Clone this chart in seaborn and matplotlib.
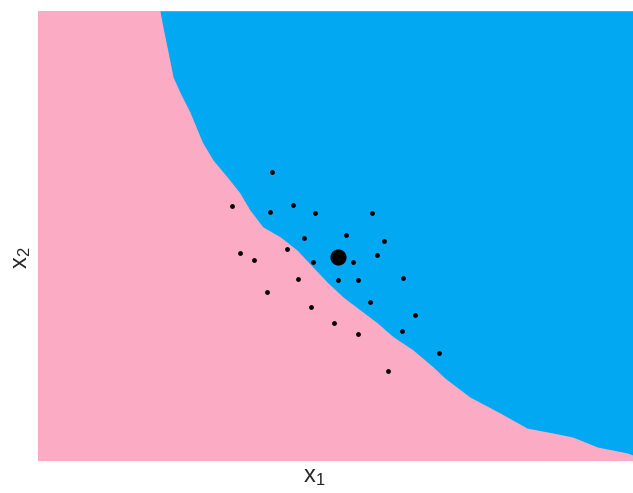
import matplotlib

matplotlib.use("Agg")
import matplotlib.pyplot as plt
import pandas as pd
import seaborn as sns

# decision boundary (x1, x2), blue region lies above it
boundary_x1 = [20.5, 21.0, 21.8, 22.7, 23.9, 25.5, 26.7, 27.6, 29.4, 31.8, 33.9, 35.6,
               37.8, 40.7, 43.5, 46.2, 48.7, 51.3, 54.1, 57.0, 59.7, 63.0, 66.4, 68.4,
               72.6, 77.6, 82.2, 86.6, 89.9, 94.0, 99.0, 100.0]
boundary_x2 = [100.0, 96.4, 91.3, 85.3, 81.8, 77.6, 73.8, 70.9, 66.9, 63.1, 59.6, 55.8,
               52.0, 49.8, 46.9, 43.1, 39.6, 36.4, 33.6, 30.7, 27.6, 24.7, 20.9, 18.4,
               14.2, 10.7, 7.3, 6.2, 5.3, 3.1, 1.8, 1.3]

# neighbourhood samples
pts_x1 = [39.3, 32.6, 42.9, 39.0, 46.5, 56.1, 44.7, 51.8, 58.2, 41.9, 33.9, 36.3, 46.2, 53.0,
          57.0, 43.7, 50.4, 53.7, 61.3, 38.5, 55.8, 45.9, 63.4, 49.7, 61.1, 53.8, 67.4, 58.9]
pts_x2 = [64.3, 56.6, 56.8, 55.3, 55.0, 55.0, 49.5, 50.1, 48.9, 47.0, 46.2, 44.6, 44.1, 44.1,
          45.8, 40.4, 40.2, 40.2, 40.6, 37.6, 35.4, 34.3, 32.4, 30.7, 28.8, 28.1, 23.9, 20.0]

# instance being explained
center_x1 = [50.5]
center_x2 = [45.3]

PINK = "#fbabc3"
BLUE = "#02a8f2"

sns.set_style("white")
plt.rcParams["font.family"] = ["Liberation Sans", "DejaVu Sans"]
plt.rcParams["mathtext.fontset"] = "custom"
plt.rcParams["mathtext.rm"] = "Liberation Sans"

fig = plt.figure(figsize=(6.33, 4.93), dpi=100)
ax = fig.add_axes([0.060, 0.065, 0.940, 0.913])
ax.set_facecolor(PINK)
ax.fill_between(boundary_x1, boundary_x2, 100, color=BLUE, linewidth=0)

pts = pd.DataFrame({"x1": pts_x1, "x2": pts_x2})
sns.scatterplot(data=pts, x="x1", y="x2", ax=ax, color="black", s=12, linewidth=0)
sns.scatterplot(x=center_x1, y=center_x2, ax=ax, color="black", s=135, linewidth=0)

ax.set_xlim(0, 100)
ax.set_ylim(0, 100)
ax.set_xticks([])
ax.set_yticks([])
sns.despine(ax=ax, left=True, bottom=True)

ax.set_xlabel(r"$\mathregular{x_1}$", fontsize=17)
ax.set_ylabel(r"$\mathregular{x_2}$", fontsize=17)
ax.xaxis.set_label_coords(0.464, -0.012)
ax.yaxis.set_label_coords(-0.008, 0.451)

fig.savefig("out.png", dpi=100)
